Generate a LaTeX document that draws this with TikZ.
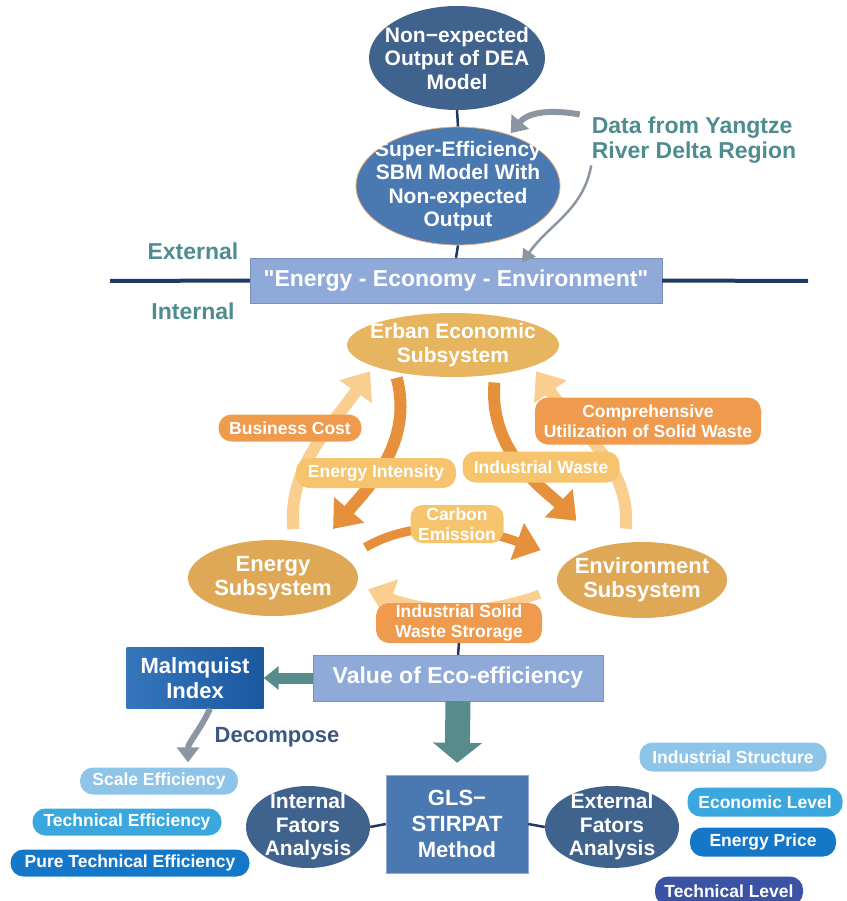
\documentclass[tikz,border=0pt]{standalone}
\usepackage{fontspec}
\setmainfont{Liberation Sans}[Ligatures=TeXOff]
\usepackage{tikz}
\usetikzlibrary{arrows.meta}
\usetikzlibrary{shapes.geometric}

\definecolor{deablue}{RGB}{64,99,142}
\definecolor{sbmblue}{RGB}{74,120,176}
\definecolor{navy}{RGB}{31,56,100}
\definecolor{boxblue}{RGB}{143,170,216}
\definecolor{tealtxt}{RGB}{78,140,144}
\definecolor{arrgray}{RGB}{140,150,162}
\definecolor{tealarr}{RGB}{88,140,140}
\definecolor{mqlight}{RGB}{54,118,188}
\definecolor{mqdark}{RGB}{26,88,160}
\definecolor{deccol}{RGB}{60,88,128}
\definecolor{pillA}{RGB}{142,196,232}
\definecolor{pillB}{RGB}{58,168,222}
\definecolor{pillC}{RGB}{20,119,200}
\definecolor{pillD}{RGB}{58,83,164}
\definecolor{ecogold}{RGB}{231,180,96}
\definecolor{subgold}{RGB}{222,168,86}
\definecolor{darkor}{RGB}{231,144,60}
\definecolor{lightor}{RGB}{249,206,142}
\definecolor{pilldark}{RGB}{239,154,76}
\definecolor{pilllight}{RGB}{246,196,108}

\begin{document}
\begin{tikzpicture}[
    x=1pt, y=1pt,
    ell/.style={ellipse, inner xsep=-40pt, inner ysep=-25pt, align=center, text=white, font=\fontsize{21}{23.5}\selectfont\bfseries},
    box/.style={rectangle, align=center, text=white, font=\fontsize{22}{26}\selectfont\bfseries},
    pill/.style={rectangle, rounded corners=13pt, align=center, text=white, inner sep=0pt, font=\fontsize{17.5}{19.5}\selectfont\bfseries},
    side/.style={text=tealtxt, inner sep=0pt, align=left, font=\fontsize{23}{25}\selectfont\bfseries},
    bigarrow/.style={line width=12pt, -{Triangle[width=38pt,length=25pt]}},
    grayarrow/.style={arrgray, line width=6pt, -{Triangle[width=22pt,length=15pt]}},
    navyline/.style={navy, line width=2.5pt}
]
\useasboundingbox (0,0) rectangle (846,-901);

\node[ell, fill=deablue, minimum width=176, minimum height=104] (dea) at (457,-58) {Non−expected\\Output of DEA\\Model};
\node[ell, fill=sbmblue, draw={rgb,255:red,232;green,176;blue,128}, line width=0.8pt, minimum width=204, minimum height=118] (sbm) at (458,-186) {Super-Efficiency\\SBM Model With\\Non-expected\\Output};
\node[box, fill=boxblue, draw=boxblue!85!black, minimum width=412, minimum height=45, font=\fontsize{23}{26}\selectfont\bfseries] (eee) at (456,-280.5) {"Energy - Economy - Environment"};

\coordinate (lineL) at (110,-281);
\coordinate (lineR) at (808,-281);
\draw[navy, line width=4pt] (lineL) -- (eee.west);
\draw[navy, line width=4pt] (eee.east) -- (lineR);
\draw[navyline] (dea.south) -- (sbm.north);
\draw[navyline] (sbm.south) -- (eee.north);

\node[side] (ext) at (193,-251) {External};
\node[side] (int) at (193,-311) {Internal};
\node[side] (data) at (694,-140) {Data from Yangtze\\River Delta Region};

\draw[grayarrow, shorten <=12pt, shorten >=2pt] (data.north west) to[out=170, in=50] (sbm.45);
\draw[grayarrow, line width=2.5pt, -{Triangle[width=15pt,length=13pt]}, shorten <=2pt] (data.south west) to[out=-100, in=55] ([xshift=66pt, yshift=-5pt]eee.north);

\node[ell, fill=ecogold, minimum width=212, minimum height=64] (eco) at (453,-345) {Erban Economic\\Subsystem};
\node[ell, fill=subgold, minimum width=170, minimum height=76, font=\fontsize{22}{23.5}\selectfont\bfseries] (energy) at (273,-578) {Energy\\Subsystem};
\node[ell, fill=subgold, minimum width=170, minimum height=76, font=\fontsize{22}{23.5}\selectfont\bfseries] (env) at (642,-580) {Environment\\Subsystem};

\draw[bigarrow, lightor, shorten <=12pt, shorten >=6pt] (energy.60) to[out=95, in=235] (eco.195);
\draw[bigarrow, lightor, shorten <=14pt, shorten >=6pt] (env.115) to[out=85, in=-55] (eco.-15);
\draw[bigarrow, darkor, shorten <=6pt, shorten >=22pt] (eco.205) to[out=-75, in=50] (energy.35);
\draw[bigarrow, darkor, shorten <=8pt, shorten >=36pt] (eco.-35) to[out=-95, in=135] (env.140);
\draw[bigarrow, darkor, line width=9pt, shorten <=22pt, shorten >=30pt] (energy.15) to[out=30, in=160] (env.165);
\draw[bigarrow, lightor, line width=9pt, shorten <=20pt, shorten >=12pt] (env.185) to[out=200, in=-20] (energy.-5);

\node[pill, fill=pilldark, minimum width=143, minimum height=27] (bc) at (290,-428) {Business Cost};
\node[pill, fill=pilllight, minimum width=160, minimum height=30] (ei) at (376,-473) {Energy Intensity};
\node[pill, fill=pilllight, minimum width=157, minimum height=31] (iw) at (541,-467) {Industrial Waste};
\node[pill, fill=pilldark, minimum width=226, minimum height=47] (cu) at (648,-421) {Comprehensive\\Utilization of Solid Waste};
\node[pill, fill=pilllight, minimum width=93, minimum height=38, rounded corners=12pt] (ce) at (457,-524) {Carbon\\Emission};
\node[pill, fill=pilldark, minimum width=166, minimum height=40] (isw) at (459,-623) {Industrial Solid\\Waste Strorage};

\node[box, fill=boxblue, draw=boxblue!85!black, minimum width=290, minimum height=46, font=\fontsize{23}{26}\selectfont\bfseries] (val) at (458,-678) {Value of Eco-efficiency};
\node[box, left color=mqlight, right color=mqdark, minimum width=137, minimum height=61, font=\fontsize{22}{25}\selectfont\bfseries] (mq) at (195,-678) {Malmquist\\Index};
\draw[navyline] (isw.south) -- (val.north);

\node[box, fill=sbmblue, draw=boxblue, minimum width=142, minimum height=98] (gls) at (457,-824) {GLS−\\STIRPAT\\Method};
\node[ell, fill=deablue, minimum width=124, minimum height=82] (inf) at (308,-827) {Internal\\Fators\\Analysis};
\node[ell, fill=deablue, minimum width=134, minimum height=82] (exf) at (612,-827) {External\\Fators\\Analysis};
\draw[navyline] (inf.east) -- (gls.west);
\draw[navyline] (gls.east) -- (exf.west);

\draw[tealarr, line width=11pt, -{Triangle[width=23pt,length=15pt]}] (val.west) -- (mq.east);
\draw[tealarr, line width=25pt, -{Triangle[width=48pt,length=20pt]}, shorten >=12pt] (val.south) -- (gls.north);

\node[inner sep=0pt, text=deccol, font=\fontsize{22}{25}\selectfont\bfseries] (dec) at (277,-737) {Decompose};

\node[pill, fill=pillA, minimum width=158, minimum height=27] (sc) at (159,-781) {Scale Efficiency};
\node[pill, fill=pillB, minimum width=189, minimum height=27] (te) at (127,-822) {Technical Efficiency};
\node[pill, fill=pillC, minimum width=239, minimum height=27] (pte) at (130,-863) {Pure Technical Efficiency};
\draw[grayarrow, shorten >=5pt] ([xshift=15pt]mq.south) to[out=-115, in=90] ([xshift=29pt]sc.north);

\node[pill, fill=pillA, minimum width=187, minimum height=29] (is) at (733,-757) {Industrial Structure};
\node[pill, fill=pillB, minimum width=155, minimum height=29] (el) at (765,-802) {Economic Level};
\node[pill, fill=pillC, minimum width=146, minimum height=29] (ep) at (763,-842) {Energy Price};
\node[pill, fill=pillD, minimum width=148, minimum height=29] (tl) at (729,-891) {Technical Level};
\end{tikzpicture}
\end{document}
